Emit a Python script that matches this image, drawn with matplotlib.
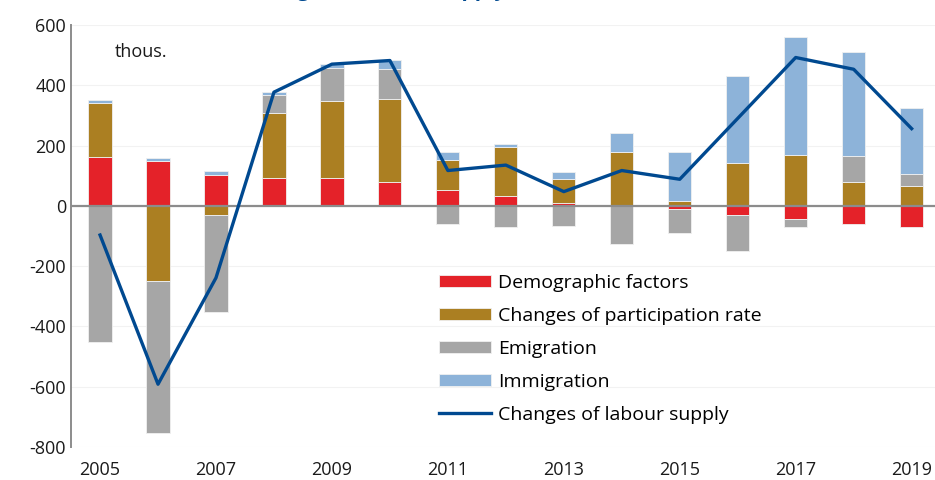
import numpy as np
import matplotlib.pyplot as plt

plt.rcParams['font.family'] = ['Open Sans', 'DejaVu Sans']
plt.rcParams['axes.unicode_minus'] = False

years = np.arange(2005, 2020)
demographic = [161, 150, 103, 92, 92, 78, 52, 33, 9, 0, -12, -30, -43, -59, -70]
participation = [180, -250, -30, 216, 256, 275, 100, 161, 80, 178, 17, 141, 167, 80, 66]
emigration = [-453, -503, -322, 61, 110, 100, -61, -72, -68, -126, -79, -119, -26, 85, 40]
immigration = [11, 9, 11, 9, 12, 30, 28, 11, 22, 63, 160, 291, 392, 345, 217]
labour_supply = [-97, -592, -239, 377, 470, 482, 117, 135, 47, 117, 88, 290, 492, 453, 256]

series = [
    ('Demographic factors', demographic, '#E42229'),
    ('Changes of participation rate', participation, '#AB7F22'),
    ('Emigration', emigration, '#A6A6A6'),
    ('Immigration', immigration, '#8DB3D9'),
]

fig = plt.figure(figsize=(9.35, 4.8), dpi=100)
ax = fig.add_axes([0.076, 0.069, 0.930, 0.879])

# kladne hodnoty skladame nahoru, zaporne dolu
pos = np.zeros(len(years))
neg = np.zeros(len(years))
handles = []
for name, vals, col in series:
    v = np.array(vals, dtype=float)
    bottom = np.where(v >= 0, pos, neg)
    h = ax.bar(years, v, bottom=bottom, width=0.4, color=col,
               edgecolor='#F0F0F0', linewidth=0.6, label=name, zorder=2)
    handles.append(h)
    pos += np.where(v >= 0, v, 0)
    neg += np.where(v < 0, v, 0)

line, = ax.plot(years, labour_supply, color='#004990', lw=2.4,
                label='Changes of labour supply', zorder=3)
handles.append(line)

ax.set_xlim(2004.5, 2019.5)
ax.set_ylim(-800, 600)
ax.set_yticks(np.arange(-800, 601, 200))
ax.set_xticks(np.arange(2005, 2020, 2))
ax.tick_params(length=0, labelsize=13, colors='#1A1A1A')
ax.tick_params(axis='x', pad=10)
ax.grid(axis='y', color='#F2F2F2', lw=0.8, zorder=0)
ax.axhline(0, color='#8C8C8C', lw=1.6, zorder=2.5)

for s in ['top', 'right', 'bottom']:
    ax.spines[s].set_visible(False)
ax.spines['left'].set_color('#8C8C8C')
ax.spines['left'].set_linewidth(1.4)

ax.text(2005.25, 510, 'thous.', fontsize=13, color='#1A1A1A', va='center')

ax.legend(handles=handles, loc='upper left', bbox_to_anchor=(0.423, 0.41),
          frameon=False, fontsize=14, handlelength=2.7, handleheight=0.62,
          handletextpad=0.35, labelspacing=0.77, borderaxespad=0, borderpad=0)

# nadpis je v puvodnim obrazku oriznuty hornim okrajem
fig.text(0.261, 1.008, 'Changes of labour supply', color='#004990',
         fontsize=15, fontweight='bold', va='baseline', ha='left')

fig.savefig('out.png', dpi=100)
